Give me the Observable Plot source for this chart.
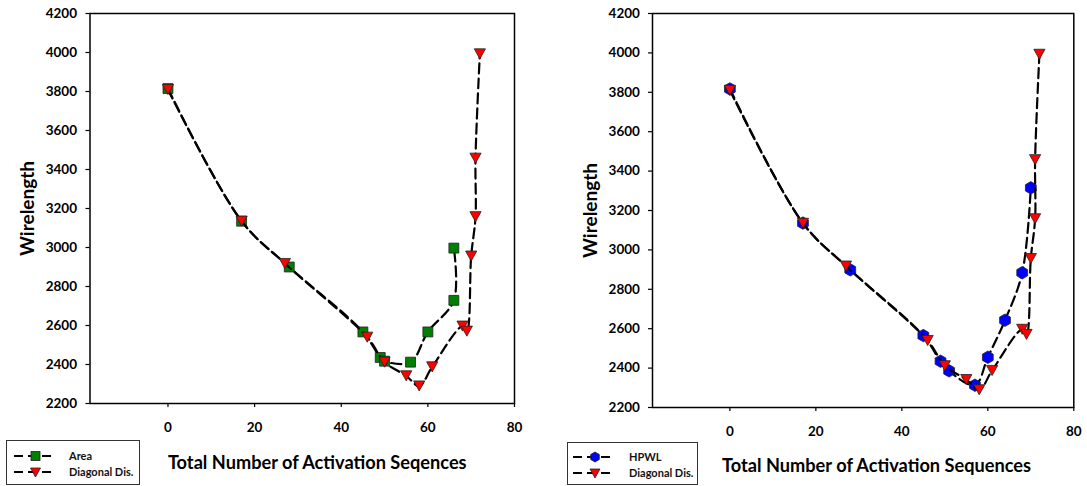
<!DOCTYPE html>
<html>
<head>
<meta charset="utf-8">
<script src="https://cdn.jsdelivr.net/npm/d3@7"></script>
<script src="https://cdn.jsdelivr.net/npm/@observablehq/plot@0.6"></script>
<style>
  html, body { margin: 0; padding: 0; background: #fff; }
  body { width: 1087px; height: 486px; position: relative; overflow: hidden; font-family: Lato, "Open Sans", sans-serif; }
  .panel { position: absolute; top: 0; }
  .legend { position: absolute; border: 1px solid #333; background: #fff; box-sizing: border-box; }
  .legend .row { position: absolute; left: 0; height: 16px; width: 100%; }
  .legend svg { position: absolute; left: 0; top: 0; }
  .legend span { position: absolute; font-size: 11px; font-weight: bold; color: #111; line-height: 16px; }
</style>
</head>
<body>
<div id="left" class="panel" style="left:0px"></div>
<div id="right" class="panel" style="left:540px"></div>

<div class="legend" style="left:6px; top:440px; width:134px; height:45px;">
  <div class="row" style="top:7px">
    <svg width="60" height="16"><line x1="7" x2="47" y1="8" y2="8" stroke="#000" stroke-width="2" stroke-dasharray="9,5"/><rect x="24" y="3.5" width="9" height="9" fill="#008000" stroke="#222" stroke-width="0.8"/></svg>
    <span style="left:62px">Area</span>
  </div>
  <div class="row" style="top:23px">
    <svg width="60" height="16"><line x1="7" x2="47" y1="8" y2="8" stroke="#000" stroke-width="2" stroke-dasharray="9,5"/><path d="M23.5,4 L33.5,4 L28.5,13 Z" fill="#ff0000" stroke="#222" stroke-width="0.8"/></svg>
    <span style="left:62px">Diagonal Dis.</span>
  </div>
</div>

<div class="legend" style="left:567px; top:442px; width:131px; height:43px;">
  <div class="row" style="top:6px">
    <svg width="60" height="16"><line x1="5" x2="45" y1="8" y2="8" stroke="#000" stroke-width="2" stroke-dasharray="9,5"/><path d="M27,3 L31.3,5.5 L31.3,10.5 L27,13 L22.7,10.5 L22.7,5.5 Z" fill="#0000ff" stroke="#222" stroke-width="0.8"/></svg>
    <span style="left:61px">HPWL</span>
  </div>
  <div class="row" style="top:22px">
    <svg width="60" height="16"><line x1="5" x2="45" y1="8" y2="8" stroke="#000" stroke-width="2" stroke-dasharray="9,5"/><path d="M22,4 L32,4 L27,13 Z" fill="#ff0000" stroke="#222" stroke-width="0.8"/></svg>
    <span style="left:61px">Diagonal Dis.</span>
  </div>
</div>

<script>
// ---- data ----
const seqArea = [0, 17, 28, 45, 49, 50, 56, 60, 66, 66];
const wlArea  = [3815, 3135, 2900, 2567, 2436, 2417, 2412, 2567, 2729, 2997];

const seqDiag = [0, 17, 27, 46, 50, 55, 58, 61, 68, 69, 70, 71, 71, 72];
const wlDiag  = [3810, 3135, 2918, 2540, 2412, 2342, 2290, 2388, 2597, 2571, 2956, 3158, 3458, 3993];

const seqHpwl = [0, 17, 28, 45, 49, 51, 57, 60, 64, 68, 70];
const wlHpwl  = [3817, 3136, 2899, 2565, 2435, 2386, 2313, 2455, 2643, 2884, 3315];

const xTicks = [0, 20, 40, 60, 80];
const yTicks = [2200, 2400, 2600, 2800, 3000, 3200, 3400, 3600, 3800, 4000, 4200];
const yTitle = "Wirelength";
const xTitleLeft = "Total Number of Activation Seqences";
const xTitleRight = "Total Number of Activation Sequences";

const toRows = (xs, ys) => xs.map((x, i) => ({x, y: ys[i]}));
const area = toRows(seqArea, wlArea);
const diag = toRows(seqDiag, wlDiag);
const hpwl = toRows(seqHpwl, wlHpwl);

// downward-pointing triangle symbol
const triangleDown = {
  draw(ctx, size) {
    const r = Math.sqrt(size / Math.PI);
    ctx.moveTo(-r, -0.9 * r);
    ctx.lineTo(r, -0.9 * r);
    ctx.lineTo(0, 0.9 * r);
    ctx.closePath();
  }
};

const lineOpts = {x: "x", y: "y", stroke: "black", strokeWidth: 2.2, strokeDasharray: "10,5", curve: "catmull-rom"};

function panel({width, height, ml, mr, mt, mb, first, firstSymbol, firstFill, firstR, xTitle, yDx, xDx, xDy, yPad}) {
  return Plot.plot({
    width, height,
    marginLeft: ml, marginRight: mr, marginTop: mt, marginBottom: mb,
    style: {fontFamily: "Lato, 'Open Sans', sans-serif", fontSize: "13.5px", fontWeight: "bold", color: "black", background: "transparent"},
    x: {domain: [-18, 80], ticks: xTicks},
    y: {domain: [2200, 4200], ticks: yTicks},
    marks: [
      Plot.axisX({ticks: xTicks, tickSize: 4, tickPadding: 15, tickFormat: d => String(d), label: null, stroke: "black", strokeWidth: 1.2}),
      Plot.axisY({ticks: yTicks, tickSize: 4, tickPadding: yPad, tickFormat: d => String(d), label: null, stroke: "black", strokeWidth: 1.2}),
      Plot.line(first, lineOpts),
      Plot.dot(first, {x: "x", y: "y", symbol: firstSymbol, r: firstR, fill: firstFill, stroke: "#222", strokeWidth: 0.8}),
      Plot.line(diag, lineOpts),
      Plot.dot(diag, {x: "x", y: "y", symbol: triangleDown, r: 5.6, fill: "#ff0000", stroke: "#222", strokeWidth: 0.8}),
      Plot.frame({stroke: "black", strokeWidth: 1.5}),
      Plot.text([yTitle], {frameAnchor: "left", textAnchor: "middle", lineAnchor: "middle", rotate: -90, dx: yDx, fontSize: 19, fontWeight: "bold", fill: "black"}),
      Plot.text([xTitle], {frameAnchor: "bottom", textAnchor: "middle", lineAnchor: "middle", dx: xDx, dy: xDy, fontSize: 18.2, fontWeight: "bold", fill: "black"})
    ]
  });
}

document.getElementById("left").append(panel({
  width: 540, height: 486, ml: 89.5, mr: 26, mt: 13, mb: 83,
  first: area, firstSymbol: "square", firstFill: "#008000", firstR: 5.6,
  xTitle: xTitleLeft, yDx: -62.5, xDx: 15, xDy: 60, yPad: 9
}));

document.getElementById("right").append(panel({
  width: 547, height: 486, ml: 112, mr: 13.7, mt: 13, mb: 79,
  first: hpwl, firstSymbol: "hexagon", firstFill: "#0000ff", firstR: 5.4,
  xTitle: xTitleRight, yDx: -61.4, xDx: 13.4, xDy: 59, yPad: 8.6
}));
</script>
</body>
</html>
